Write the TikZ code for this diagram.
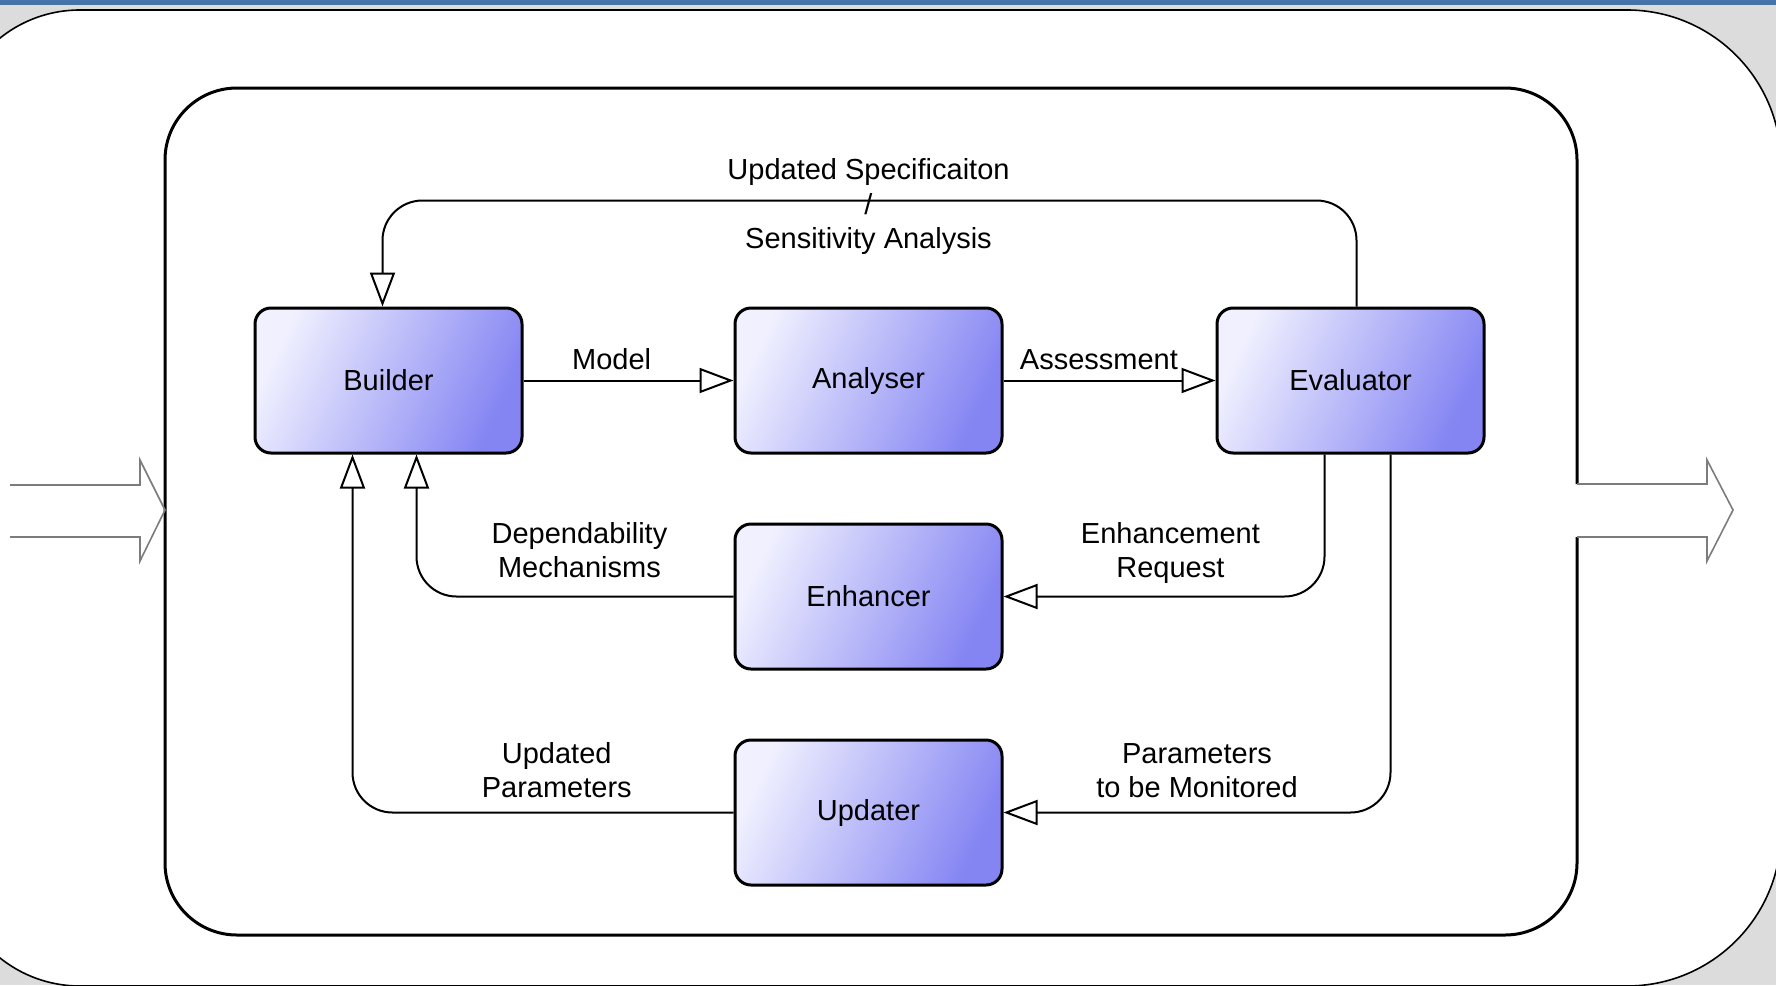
\documentclass[tikz,border=0pt]{standalone}
\usepackage{fontspec}
\setmainfont{Liberation Sans}
\usetikzlibrary{arrows.meta}

\definecolor{bggrey}{HTML}{DCDCDC}
\definecolor{barblue}{HTML}{4673A9}
\definecolor{unitlight}{HTML}{F0F0FF}
\definecolor{unitmid}{HTML}{A2A2F8}
\definecolor{unitdark}{HTML}{8484F3}
\definecolor{bigarrow}{HTML}{7C7C7C}

\begin{document}
\begin{tikzpicture}[x=0.5pt,y=-0.5pt,>={Triangle[open,length=17pt,width=12.5pt]},
                    node distance=240pt,font=\fontsize{14.5}{17.25}\selectfont,
                    unit/.style={draw,rounded corners=8pt,line width=1.5pt,minimum width=133.5pt,
                                 minimum height=72.5pt,top color=unitlight,middle color=unitmid,
                                 bottom color=unitdark,shading angle=65},
                    flow/.style={->,line width=1pt,rounded corners=20pt},
                    lbl/.style={align=center}]
	% page background
	\useasboundingbox (0,0) rectangle (1776,985);
	\clip (0,0) rectangle (1776,985);
	\fill[bggrey] (0,0) rectangle (1776,985);
	\fill[barblue] (0,0) rectangle (1776,5);
	\draw[fill=white,line width=0.8pt,rounded corners=77pt] (800,10) -| (1781,500) |- (800,986)
		[rounded corners=64pt] -| (-48,500) |- (800,10);
	% system boundary, open on the right for the output
	\draw[line width=1.5pt,rounded corners=36pt] (1577,537) |- (800,935) -| (165,500) |- (800,88) -| (1577,484);
	\draw[bigarrow,line width=0.8pt] (10,485) -- (140,485) -- (140,460) -- (165,510) -- (140,561) -- (140,537) -- (10,537);
	\draw[bigarrow,line width=0.8pt] (1577,484) -- (1707,484) -- (1707,460) -- (1733,510) -- (1707,561) -- (1707,537) -- (1577,537);

	\node[unit]				(builder)	at (388.5,380.5)		{Builder};
	\node[unit]				(analyser)	[right of = builder]		{Analyser};
	\node[unit,node distance=241pt]	(evaluator)	[right of = analyser]		{Evaluator};
	\node[unit,node distance=108pt]	(enhancer)	[below of = analyser]		{Enhancer};
	\node[unit,node distance=108pt]	(updater)	[below of = enhancer]		{Updater};

	\draw[flow] (builder) -- node[above=1.7pt,pos=0.42]{Model} (analyser);
	\draw[flow] (analyser) -- node[above=1.7pt,pos=0.45]{Assessment} (evaluator);
	\draw[flow] ([xshift=3pt]evaluator.north) |- ([yshift=53pt]analyser.north) coordinate (spec)
		-| ([xshift=-3pt]builder.north);
	\node[lbl,yshift=-3pt] (speclabel) at (spec) {Updated Specificaiton\\/\\Sensitivity Analysis};
	\draw[flow] ([xshift=-13pt]evaluator.south) |- node[above=2.6pt,lbl,pos=0.74]{Enhancement\\Request} (enhancer.east);
	\draw[flow] ([xshift=20pt]evaluator.south) |- node[above=3.4pt,lbl,pos=0.75]{Parameters\\to be Monitored} (updater.east);
	\draw[flow] (enhancer.west) -| node[above=5.5pt,lbl,pos=0.243]{Dependability\\Mechanisms} ([xshift=14pt]builder.south);
	\draw[flow] (updater.west) -| node[above=3.4pt,lbl,pos=0.232]{Updated\\Parameters} ([xshift=-18pt]builder.south);
\end{tikzpicture}
\end{document}
